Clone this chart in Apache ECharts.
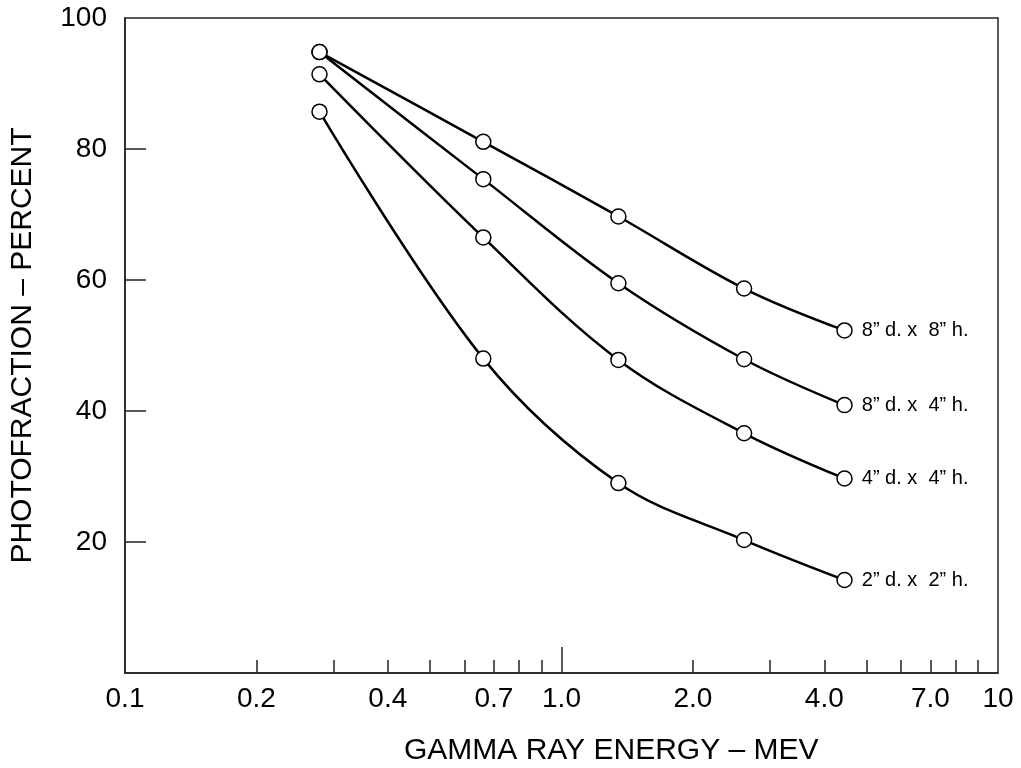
<!DOCTYPE html>
<html>
<head>
<meta charset="utf-8">
<script src="https://cdn.jsdelivr.net/npm/echarts@6/dist/echarts.min.js"></script>
<style>
html,body{margin:0;padding:0;background:#fff;}
#chart{width:1021px;height:768px;}
</style>
</head>
<body>
<div id="chart"></div>
<script>
// Data
const energyMeV = [0.279, 0.662, 1.35, 2.62, 4.45];
const pf8x8 = [94.8, 81.1, 69.7, 58.7, 52.3];
const pf8x4 = [94.8, 75.4, 59.5, 47.9, 40.9];
const pf4x4 = [91.4, 66.5, 47.8, 36.6, 29.7];
const pf2x2 = [85.7, 48.0, 29.0, 20.3, 14.2];
const seriesNames = ['8\u201D d. x  8\u201D h.', '8\u201D d. x  4\u201D h.', '4\u201D d. x  4\u201D h.', '2\u201D d. x  2\u201D h.'];
const xMinorTicks = [0.2, 0.3, 0.4, 0.5, 0.6, 0.7, 0.8, 0.9, 2, 3, 4, 5, 6, 7, 8, 9];
const xMajorTicks = [1];
const xTickLabels = ['0.1', '0.2', '0.4', '0.7', '1.0', '2.0', '4.0', '7.0', '10'];
const yTickValues = [20, 40, 60, 80];
const yTickLabels = [20, 40, 60, 80, 100];

const allSeries = [pf8x8, pf8x4, pf4x4, pf2x2];
const lg = v => Math.log10(v);
const labelMap = {};
xTickLabels.forEach(t => { labelMap[lg(Number(t)).toFixed(4)] = t; });

const chart = echarts.init(document.getElementById('chart'), null, {renderer: 'canvas'});
const FONT = 'Liberation Sans, Arial, sans-serif';

const option = {
  animation: false,
  backgroundColor: '#fff',
  textStyle: {fontFamily: FONT},
  title: {
    text: 'GAMMA RAY ENERGY \u2013 MEV',
    left: 399, top: 731,
    textStyle: {fontFamily: FONT, fontSize: 30, fontWeight: 'normal', color: '#000'}
  },
  grid: {
    left: 125, right: 23, top: 18, bottom: 95,
    show: true, borderColor: '#222', borderWidth: 1.5, backgroundColor: 'transparent'
  },
  xAxis: [{
    type: 'value', min: -1, max: 1,
    axisLine: {show: true, onZero: false, lineStyle: {color: '#222', width: 1.5}},
    axisTick: {show: true, inside: true, length: 13, customValues: xMinorTicks.map(lg), lineStyle: {color: '#222', width: 1.5}},
    axisLabel: {
      customValues: xTickLabels.map(t => lg(Number(t))),
      formatter: v => labelMap[Number(v).toFixed(4)] || '',
      fontSize: 28, color: '#000', margin: 12, fontFamily: FONT
    },
    splitLine: {show: false}
  }, {
    type: 'value', min: -1, max: 1, position: 'bottom', gridIndex: 0,
    axisLine: {show: false, onZero: false},
    axisTick: {show: true, inside: true, length: 26, customValues: xMajorTicks.map(lg), lineStyle: {color: '#222', width: 1.5}},
    axisLabel: {show: false},
    splitLine: {show: false}
  }],
  yAxis: {
    type: 'value', min: 0, max: 100,
    name: 'PHOTOFRACTION \u2013 PERCENT',
    nameLocation: 'middle', nameGap: 87,
    nameTextStyle: {fontSize: 30, color: '#000', fontFamily: FONT},
    axisLine: {show: true, onZero: false, lineStyle: {color: '#222', width: 1.5}},
    axisTick: {show: true, inside: true, length: 21, customValues: yTickValues, lineStyle: {color: '#222', width: 1.5}},
    axisLabel: {customValues: yTickLabels, fontSize: 28, color: '#000', margin: 18, fontFamily: FONT},
    splitLine: {show: false}
  },
  series: allSeries.map((vals, si) => ({
    type: 'line',
    name: seriesNames[si],
    xAxisIndex: 0,
    smooth: 0.35,
    symbol: 'circle',
    symbolSize: 15,
    itemStyle: {color: '#fff', borderColor: '#000', borderWidth: 1.5},
    lineStyle: {color: '#000', width: 2.5},
    emphasis: {disabled: true},
    z: 2 + si,
    data: energyMeV.map((e, i) => {
      const item = {value: [lg(e), vals[i]]};
      if (i === energyMeV.length - 1) {
        item.label = {show: true, position: 'right', distance: 9, formatter: seriesNames[si],
          fontSize: 20, color: '#000', fontFamily: FONT};
      }
      return item;
    })
  }))
};
chart.setOption(option);
</script>
</body>
</html>
